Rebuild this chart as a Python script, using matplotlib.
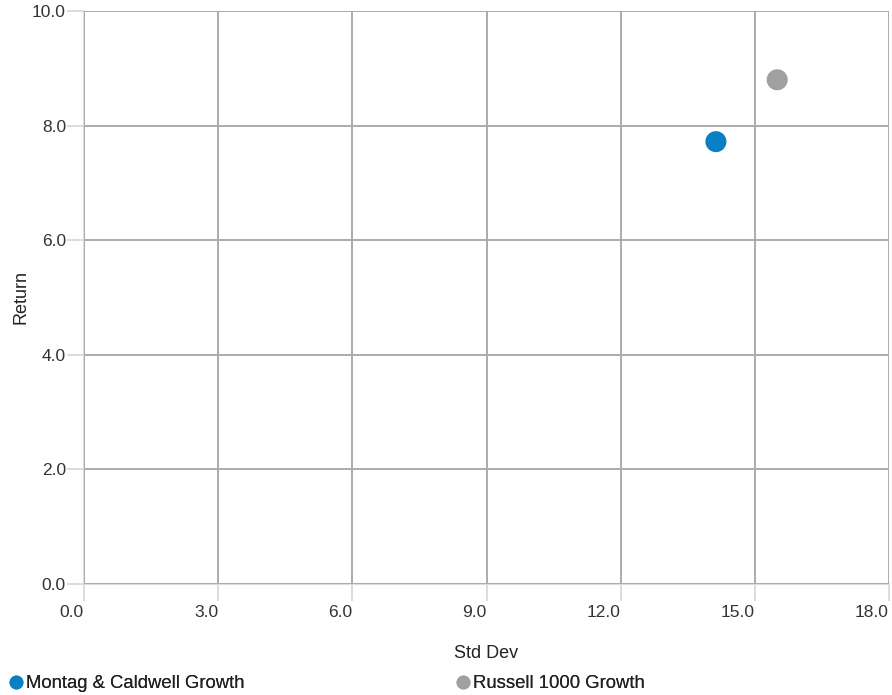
import matplotlib
matplotlib.use("Agg")
import matplotlib.pyplot as plt
from matplotlib.lines import Line2D

plt.rcParams['font.family'] = ['Liberation Sans', 'DejaVu Sans']

names = ["Montag & Caldwell Growth", "Russell 1000 Growth"]
std_dev = [14.13, 15.50]
returns = [7.72, 8.80]
colors = ["#0A80C4", "#A0A0A0"]

x_ticks = [0.0, 3.0, 6.0, 9.0, 12.0, 15.0, 18.0]
y_ticks = [0.0, 2.0, 4.0, 6.0, 8.0, 10.0]

fig = plt.figure(figsize=(8.92, 6.95), dpi=100)
ax = fig.add_axes([84 / 892, 1 - 584 / 695, (889 - 84) / 892, (584 - 11) / 695])

ax.set_xlim(0, 18)
ax.set_ylim(0, 10)
ax.set_xticks(x_ticks)
ax.set_yticks(y_ticks)
ax.set_xticklabels([f"{v:.1f}" for v in x_ticks], ha="right")
ax.set_yticklabels([f"{v:.1f}" for v in y_ticks])

ax.grid(True, color="#ABABAB", linewidth=1.4)
ax.set_axisbelow(True)
for side in ["top", "right"]:
    ax.spines[side].set_visible(False)
for side in ["left", "bottom"]:
    ax.spines[side].set_color("#DCDCDC")
    ax.spines[side].set_linewidth(1.4)
    ax.spines[side].set_zorder(0.5)

ax.tick_params(axis="both", colors="#DCDCDC", length=12, width=1.4,
               labelcolor="#333333", labelsize=12.5)
ax.tick_params(axis="x", pad=3)
ax.tick_params(axis="y", pad=1)

for x, y, c in zip(std_dev, returns, colors):
    ax.scatter([x], [y], s=230, color=c, edgecolors="none", zorder=3)

ax.set_xlabel("Std Dev", fontsize=13, color="#222222", labelpad=18)
ax.set_ylabel("Return", fontsize=13, color="#222222", labelpad=2)

handles = [Line2D([], [], marker="o", linestyle="none", markersize=10,
                  markerfacecolor=c, markeredgecolor="none") for c in colors]
leg_x = [10 / 892, 457 / 892]
for h, name, lx in zip(handles, names, leg_x):
    leg = fig.legend([h], [name], loc="center left", bbox_to_anchor=(lx, 1 - 684 / 695),
                     frameon=False, fontsize=13.3, handlelength=0.6, handletextpad=0.25,
                     borderpad=0, borderaxespad=0, labelcolor="#222222")
    fig.add_artist(leg)

fig.savefig("out.png", dpi=100)
